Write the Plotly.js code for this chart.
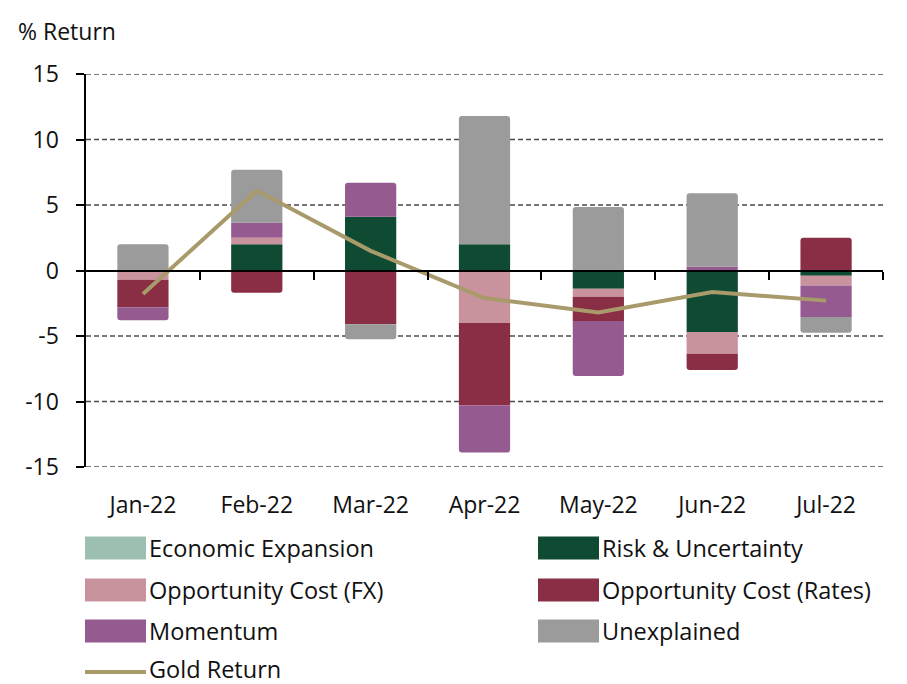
<!DOCTYPE html>
<html>
<head>
<meta charset="utf-8">
<script src="https://cdn.plot.ly/plotly-3.0.1.min.js"></script>
<style>html,body{margin:0;padding:0;background:#fff;}#chart{width:907px;height:684px;}</style>
</head>
<body>
<div id="chart"></div>
<script>
const months = ["Jan-22","Feb-22","Mar-22","Apr-22","May-22","Jun-22","Jul-22"];
const economicExpansion = [0, 0, 0, 0, 0, 0, 0];
const riskUncertainty   = [0, 2.0, 4.1, 2.0, -1.4, -4.7, -0.4];
const oppCostFX         = [-0.7, 0.5, 0, -4.0, -0.6, -1.65, -0.75];
const oppCostRates      = [-2.1, -1.7, -4.1, -6.3, -1.85, -1.25, 2.5];
const momentum          = [-1.0, 1.15, 2.6, -3.6, -4.2, 0.3, -2.4];
const unexplained       = [2.0, 4.05, -1.15, 9.8, 4.85, 5.6, -1.2];
const goldReturn        = [-1.8, 6.1, 1.5, -2.1, -3.2, -1.65, -2.3];
const yTicks = [-15, -10, -5, 0, 5, 10, 15];

const seriesNames = ["Economic Expansion","Risk & Uncertainty","Opportunity Cost (FX)","Opportunity Cost (Rates)","Momentum","Unexplained"];
const seriesData = [economicExpansion, riskUncertainty, oppCostFX, oppCostRates, momentum, unexplained];
const colors = ["#9DBFB2","#0F4A33","#C9939D","#8A2E46","#955B90","#9B9B9B"];
const goldColor = "#A89A6A";
const FONT = "Open Sans, sans-serif";

const traces = seriesData.map((d, i) => ({
  type: "bar", x: months, y: d, name: seriesNames[i],
  marker: {color: colors[i], line: {width: 0}, cornerradius: 3},
  showlegend: false, hoverinfo: "skip"
}));
traces.push({
  type: "scatter", mode: "lines", x: months, y: goldReturn, name: "Gold Return",
  line: {color: goldColor, width: 4}, showlegend: false
});
// zero-line axis with boundary tick marks
traces.push({type: "scatter", x: [0], y: [0], xaxis: "x2", mode: "markers",
  marker: {opacity: 0}, showlegend: false, hoverinfo: "skip"});

const plotL = 86, plotR = 883, plotT = 74, plotB = 467;
const px2x = p => (p - plotL) / (plotR - plotL);
const py2y = p => (plotB - p) / (plotB - plotT);
const shapes = [], annotations = [];

// dashed gridlines at every y tick (including the range edges)
yTicks.filter(v => v !== 0).forEach(v => {
  shapes.push({type: "line", xref: "paper", yref: "y", x0: 0, x1: 1, y0: v, y1: v,
    line: {color: "#4a4a4a", width: 1.6, dash: "5px,3px"}, layer: "below"});
});

// custom legend (2 columns)
const legendItems = seriesNames.map((n, i) => ({name: n, color: colors[i], kind: "box"}))
  .concat([{name: "Gold Return", color: goldColor, kind: "line"}]);
const colX = [85, 538];
const rowY = [548, 590, 631, 669];
legendItems.forEach((it, i) => {
  const c = i % 2, r = Math.floor(i / 2);
  const x0 = colX[c], x1 = colX[c] + 61, yc = rowY[r];
  if (it.kind === "box") {
    shapes.push({type: "rect", xref: "paper", yref: "paper",
      x0: px2x(x0), x1: px2x(x1), y0: py2y(yc + 11.5), y1: py2y(yc - 11.5),
      fillcolor: it.color, line: {width: 0}});
  } else {
    shapes.push({type: "line", xref: "paper", yref: "paper",
      x0: px2x(x0), x1: px2x(x1), y0: py2y(yc + 3), y1: py2y(yc + 3),
      line: {color: it.color, width: 4}});
  }
  annotations.push({xref: "paper", yref: "paper", x: px2x(x1 + 2), y: py2y(yc),
    xanchor: "left", yanchor: "middle", text: it.name, showarrow: false, borderpad: 0,
    font: {family: FONT, size: 23.5, color: "#111"}});
});
annotations.push({xref: "paper", yref: "paper", x: px2x(16), y: py2y(31),
  xanchor: "left", yanchor: "middle", text: "% Return", showarrow: false,
  font: {family: FONT, size: 23, color: "#111"}});

const layout = {
  width: 907, height: 684,
  margin: {l: plotL, r: 907 - plotR, t: plotT, b: 684 - plotB},
  paper_bgcolor: "#fff", plot_bgcolor: "#fff",
  barmode: "relative", bargap: 0.55,
  font: {family: FONT, size: 22, color: "#111"},
  xaxis: {type: "category", range: [-0.5, 6.5], showgrid: false, showline: false,
    zeroline: false, ticks: "", ticklabelstandoff: 22,
    tickfont: {family: FONT, size: 23, color: "#111"}, fixedrange: true},
  xaxis2: {overlaying: "x", anchor: "free", position: 0.5, range: [-0.5, 6.5],
    tickvals: [0.5, 1.5, 2.5, 3.5, 4.5, 5.5, 6.5], ticks: "outside", ticklen: 8,
    tickwidth: 2, tickcolor: "#000", showticklabels: false, showline: true,
    linecolor: "#000", linewidth: 2, showgrid: false, zeroline: false},
  yaxis: {range: [-15, 15], tickvals: yTicks, ticktext: yTicks.map(String),
    showgrid: false, zeroline: false, showline: true, linecolor: "#000", linewidth: 2.5,
    ticks: "outside", ticklen: 8, tickwidth: 2, tickcolor: "#000",
    ticklabelstandoff: 12, tickfont: {family: FONT, size: 23, color: "#111"}},
  shapes: shapes, annotations: annotations, showlegend: false
};
Plotly.newPlot("chart", traces, layout, {displayModeBar: false, staticPlot: true});
</script>
</body>
</html>
